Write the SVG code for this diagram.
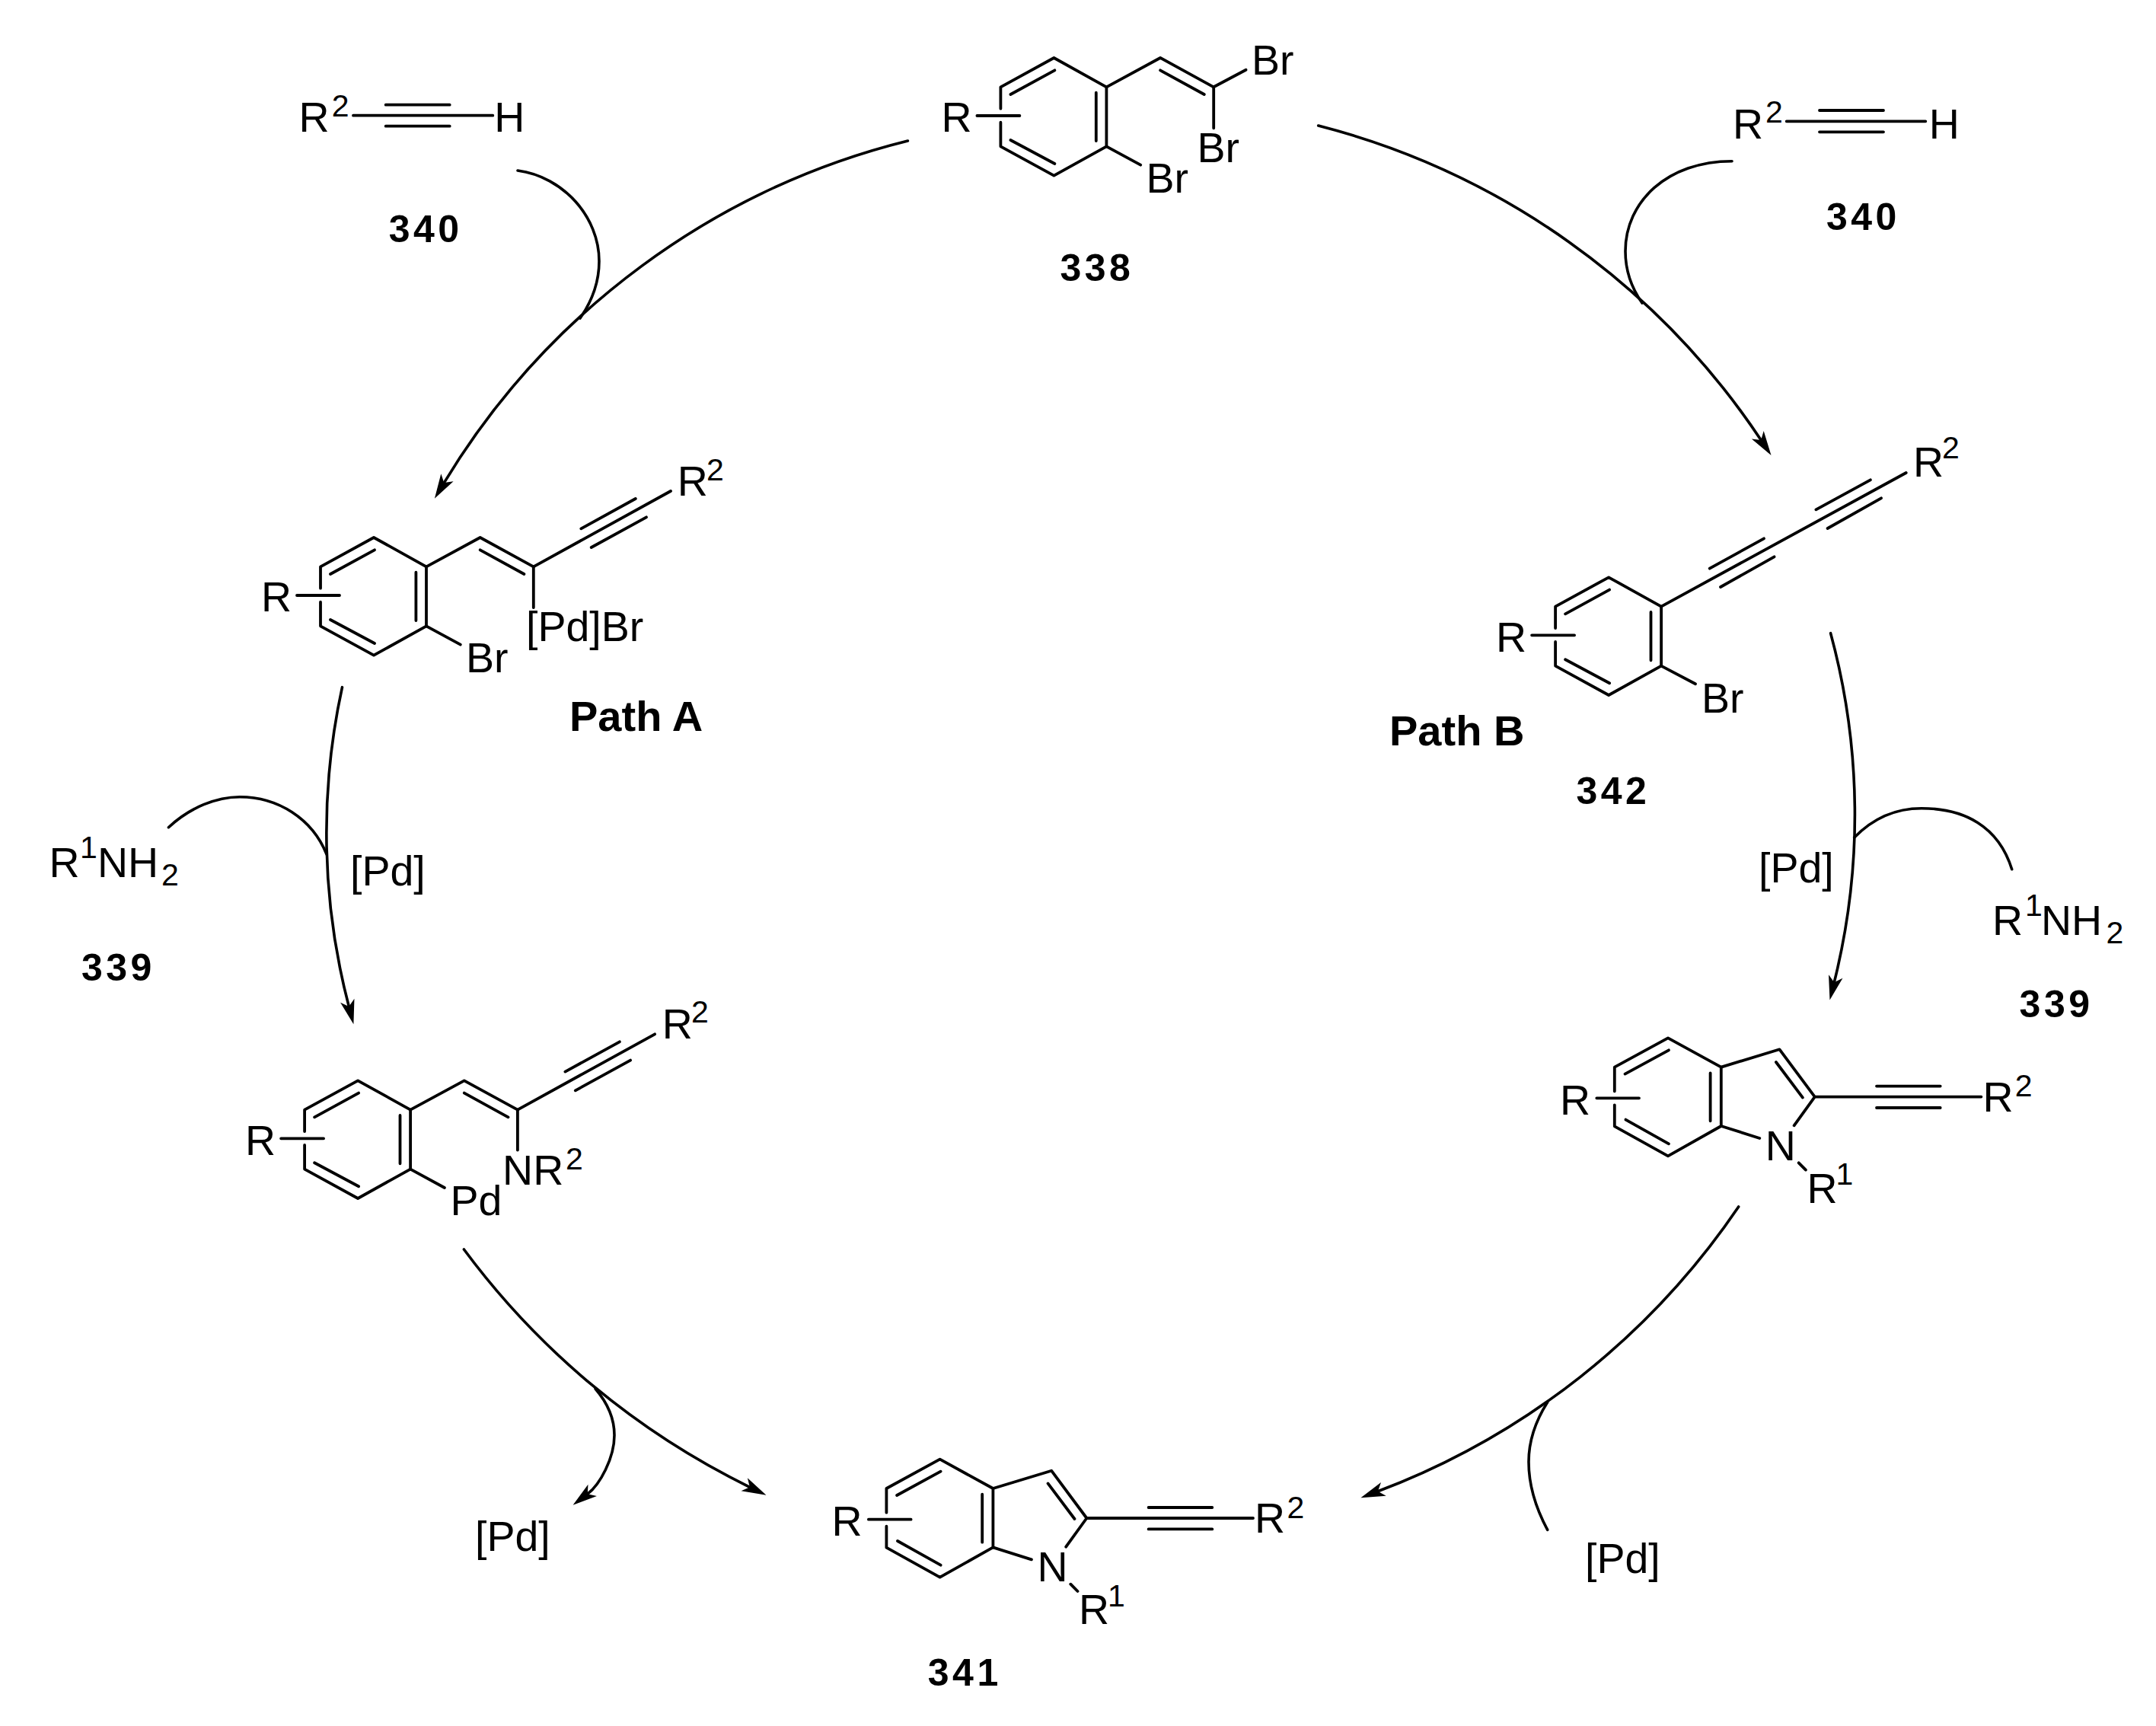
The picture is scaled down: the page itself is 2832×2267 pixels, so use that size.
<svg xmlns="http://www.w3.org/2000/svg" xmlns:xlink="http://www.w3.org/1999/xlink" width="2832" height="2267" viewBox="0 0 2832 2267">
<style>
text{font-family:"Liberation Sans",Arial,sans-serif;font-size:55.5px;fill:#000}
.s{font-size:41px}
.l{font-weight:700;font-size:50px;letter-spacing:4.5px}
.p{font-weight:700;font-size:56px}
.b{fill:none;stroke:#000;stroke-width:3.8;stroke-linecap:round;stroke-linejoin:round}
.a{fill:none;stroke:#000;stroke-width:3.6;stroke-linecap:round}
.h{marker-end:url(#head)}
</style>
<defs>
<marker id="head" markerUnits="userSpaceOnUse" markerWidth="40" markerHeight="24" viewBox="-34 -12 40 24" refX="-24" refY="0" orient="auto"><path d="M0,0L-32,-9.5L-24,0L-32,9.5Z" fill="#000"/></marker>
<path id="ringA" class="b" d="M-70,66.7V38.3L0,0L69,38.3V116.3L0,154.7L-70,116.3V84.7M-57,48L1,16.3M55.4,45.7V109M-57,108L1,139M-101,76H-45"/>
<path id="ringB" class="b" d="M-70.2,70V38.3L0,0L69.8,38.3V115.7L0,155L-70.2,116V88M-56.5,47.3L1,16M55.6,46V109M-55.6,107.3L1,139M-93.7,79H-38"/>
<path id="indole" class="b" d="M69.8,38.3L146.5,15L192.8,77.3L165.6,115M141.9,31.7L176.9,78.3M69.8,115.7L120.3,131.7M192.8,77.3H411.4M274,63.3H357.7M274,91.7H357.7M171.7,164L180.9,173.3"/>
<path id="vinyl" class="b" d="M69,38.3L139.7,0L209.8,38.3M139.7,16.3L197.4,48M69,116.3L113.8,140.7"/>
<path id="vinyne" class="b" d="M209.8,38.3L390,-61M272.3,-11.7L343.8,-51M285.7,13L358,-26.7"/>
</defs>
<rect width="2832" height="2267" fill="#fff"/>
<g id="connectors">
<path class="a h" d="M1192.4,185A990.8,990.8 0 0 0 583.3,634.1"/>
<path class="a h" d="M1731.7,165A996,996 0 0 1 2313.2,578"/>
<path class="a h" d="M2404.6,831.7A908,908 0 0 1 2409.3,1290.2"/>
<path class="a h" d="M449.5,902.7A897,897 0 0 0 458.3,1322"/>
<path class="a h" d="M609.4,1641A1030,1030 0 0 0 984.9,1953.3"/>
<path class="a h" d="M2283.7,1585A998.8,998.8 0 0 1 1809.9,1958.8"/>
<path class="a" d="M680,224C740,232 787,285 787,343C787,370 778,395 762,418"/>
<path class="a" d="M2275,211.7C2190,211.7 2135,265 2135,330C2135,355 2143,378 2157,398"/>
<path class="a" d="M221.4,1086.7C250,1060 285,1046.7 315,1046.7C365,1046.7 410,1075 429,1122"/>
<path class="a" d="M2435.7,1100C2460,1075 2490,1061.7 2524,1061.7C2580,1061.7 2625,1085 2642.7,1141.7"/>
<path class="a h" d="M782,1824C800,1845 807,1865 807,1885C807,1915 788,1950 771.8,1962.2"/>
<path class="a" d="M2032.7,1841.7C2016,1868 2008,1895 2008,1920C2008,1950 2018,1982 2032.7,2009.3"/>
</g>
<g id="n338" transform="translate(1384.4,76)">
<use href="#ringA"/><use href="#vinyl"/>
<path class="b" d="M209.8,38.3L252.2,15.7M209.8,38.3V92.3"/>
<text x="-148" y="97.3">R</text>
<text x="259.5" y="21.7">Br</text>
<text x="188" y="137.3">Br</text>
<text x="121" y="177.3">Br</text>
</g>
<text id="label338" class="l" x="1392.5" y="369">338</text>
<g id="n340a">
<path class="b" d="M464,151.7H647.3M506.7,137.7H590.7M506.7,165.7H590.7"/>
<text x="392.6" y="173.3">R<tspan class="s" x="435.7" y="153.3">2</tspan></text>
<text x="649.3" y="173.3">H</text>
</g>
<text id="label340a" class="l" x="510.7" y="317.7">340</text>
<g id="n340b">
<path class="b" d="M2346.7,159.3H2529.3M2390,145H2474M2390,173.3H2474"/>
<text x="2276" y="181.7">R<tspan class="s" x="2319" y="161">2</tspan></text>
<text x="2533.7" y="181.7">H</text>
</g>
<text id="label340b" class="l" x="2399" y="301.7">340</text>
<g id="nPathA" transform="translate(491,706)">
<use href="#ringA"/><use href="#vinyl"/><use href="#vinyne"/>
<path class="b" d="M209.8,38.3V92"/>
<text x="-148" y="97.3">R</text>
<text x="398.7" y="-55.3">R<tspan class="s" x="437" y="-75">2</tspan></text>
<text x="200" y="135.7">[Pd]Br</text>
<text x="121" y="177.3">Br</text>
</g>
<text id="labelPathA" class="p" x="748" y="960">Path A</text>
<g id="n342" transform="translate(2113.1,758.3)">
<use href="#ringA"/>
<path class="b" d="M69,38.3L390.6,-137.3M132.6,-11.6L203.9,-51M146.9,12.7L217.4,-27M272.3,-89L343.8,-128M287.5,-64.3L357.9,-104M69,116.3L113.9,140"/>
<text x="-148" y="97.3">R</text>
<text x="400" y="-132.3">R<tspan class="s" x="438" y="-156.6">2</tspan></text>
<text x="121.9" y="177.4">Br</text>
</g>
<text id="labelPathB" class="p" x="1825" y="979.3">Path B</text>
<text id="label342" class="l" x="2070.5" y="1055.7">342</text>
<g id="n339a">
<text x="64.6" y="1151.7">R<tspan class="s" x="105" y="1127.3">1</tspan><tspan x="128" y="1151.7">NH</tspan><tspan class="s" x="212" y="1163.3">2</tspan></text>
</g>
<text id="label339a" class="l" x="107" y="1288.3">339</text>
<text id="pdA" x="460" y="1163.3">[Pd]</text>
<g id="n339b">
<text x="2617" y="1227.7">R<tspan class="s" x="2660" y="1203.3">1</tspan><tspan x="2681" y="1227.7">NH</tspan><tspan class="s" x="2766.6" y="1239.3">2</tspan></text>
</g>
<text id="label339b" class="l" x="2652.6" y="1336">339</text>
<text id="pdB" x="2310" y="1159.3">[Pd]</text>
<g id="nPd" transform="translate(470.1,1419.3)">
<use href="#ringA"/><use href="#vinyl"/><use href="#vinyne"/>
<path class="b" d="M209.8,38.3V91.3"/>
<text x="-148" y="97.3">R</text>
<text x="399.6" y="-55">R<tspan class="s" x="438" y="-76">2</tspan></text>
<text x="190" y="136.7">NR<tspan class="s" x="273" y="116.7">2</tspan></text>
<text x="121.4" y="176.7">Pd</text>
</g>
<g id="nIndoleR" transform="translate(2191,1363.3)">
<use href="#ringB"/><use href="#indole"/>
<text x="-142" y="100.7">R</text>
<text x="127.8" y="160.7">N</text>
<text x="182.4" y="216.7">R<tspan class="s" x="220.5" y="193">1</tspan></text>
<text x="413.4" y="96.7">R<tspan class="s" x="455.8" y="77">2</tspan></text>
</g>
<g id="n341" transform="translate(1234.6,1916.7)">
<use href="#ringB"/><use href="#indole"/>
<text x="-142" y="100.7">R</text>
<text x="127.8" y="160.7">N</text>
<text x="182.4" y="216.7">R<tspan class="s" x="220.5" y="193">1</tspan></text>
<text x="413.4" y="96.7">R<tspan class="s" x="455.8" y="77">2</tspan></text>
</g>
<text id="label341" class="l" x="1218.8" y="2214.3">341</text>
<text id="pdC" x="624" y="2037.3">[Pd]</text>
<text id="pdD" x="2082" y="2065.7">[Pd]</text>
</svg>
